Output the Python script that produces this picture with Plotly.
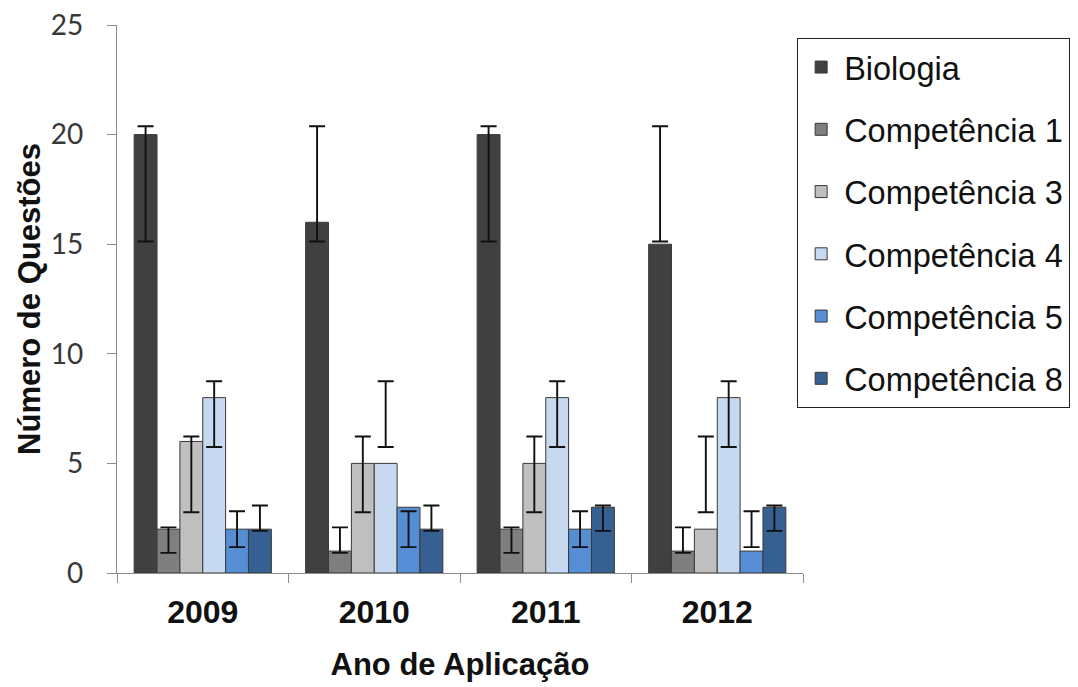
import plotly.graph_objects as go

years = ["2009", "2010", "2011", "2012"]
series = ["Biologia", "Competência 1", "Competência 3", "Competência 4", "Competência 5", "Competência 8"]
biologia = [20, 16, 20, 15]
comp1 = [2, 1, 2, 1]
comp3 = [6, 5, 5, 2]
comp4 = [8, 5, 8, 8]
comp5 = [2, 3, 2, 1]
comp8 = [2, 2, 3, 3]
values = [biologia, comp1, comp3, comp4, comp5, comp8]

# error bars drawn around a centre value (same for every year of a series)
err_center = [17.75, 1.5, 4.5, 7.25, 2.0, 2.5]
err_half = [2.63, 0.58, 1.73, 1.5, 0.82, 0.58]

colors = ["#404040", "#7f7f7f", "#bfbfbf", "#c6d9f1", "#558ed5", "#376092"]

fig = go.Figure()
for i, (name, vals) in enumerate(zip(series, values)):
    fig.add_trace(go.Bar(
        x=years, y=vals, name=name, offsetgroup=str(i), legendgroup=str(i),
        marker=dict(color=colors[i], line=dict(color="#3a3a36", width=1)),
    ))
for i in range(len(series)):
    fig.add_trace(go.Bar(
        x=years, y=[err_center[i]] * len(years), offsetgroup=str(i),
        showlegend=False, hoverinfo="skip",
        marker=dict(color="rgba(0,0,0,0)", line=dict(width=0)),
        error_y=dict(type="data", array=[err_half[i]] * len(years), visible=True,
                     color="#111111", thickness=1.9, width=8),
    ))

fig.update_layout(
    width=1078, height=687,
    barmode="group", bargap=0.2, bargroupgap=0,
    plot_bgcolor="white", paper_bgcolor="white",
    margin=dict(l=109, r=283, t=17, b=122, autoexpand=False),
    showlegend=True,
    legend=dict(
        x=0.991, y=0.976, xanchor="left", yanchor="top",
        bordercolor="#222222", borderwidth=1.3,
        font=dict(family="Liberation Sans, Arial", size=32.5, color="#111111"),
        tracegroupgap=17, traceorder="grouped", itemwidth=36,
    ),
    xaxis=dict(
        type="category", showline=True, linecolor="#8a8a8a", linewidth=1.3,
        automargin=False,
        ticks="outside", tickson="boundaries", ticklen=9, tickcolor="#8a8a8a",
        tickfont=dict(family="Liberation Sans, Arial", size=32, color="#111111", weight="bold"),
        ticklabelstandoff=10,
        title=dict(text="Ano de Aplicação", standoff=24,
                   font=dict(family="Liberation Sans, Arial", size=31, color="#111111", weight="bold")),
    ),
    yaxis=dict(
        range=[0, 25], dtick=5, showgrid=False, zeroline=False,
        showline=True, linecolor="#8a8a8a", linewidth=1.3,
        automargin=False, ticklabeloverflow="allow",
        ticks="outside", ticklen=9, tickcolor="#8a8a8a",
        tickfont=dict(family="Lato, Open Sans", size=28, color="#383838"),
        ticklabelstandoff=18,
        title=dict(text="Número de Questões", standoff=0,
                   font=dict(family="Liberation Sans, Arial", size=31, color="#111111", weight="bold")),
    ),
)

fig.write_html("out.html")
